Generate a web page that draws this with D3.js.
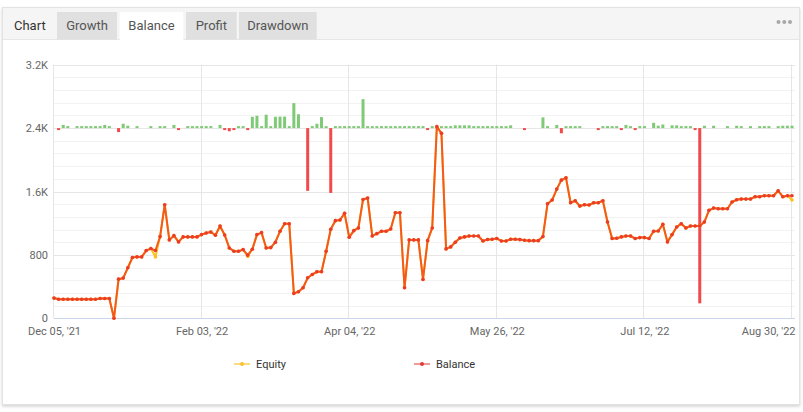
<!DOCTYPE html>
<html>
<head>
<meta charset="utf-8">
<script src="https://cdn.jsdelivr.net/npm/d3@7"></script>
<style>
  body { margin: 0; background: #fff; }
  svg { display: block; font-family: Roboto, "Liberation Sans", Arial, sans-serif; }
</style>
</head>
<body>
<div id="chart-area"></div>
<script>
// Tabs in the header
var tabs = ["Growth", "Balance", "Profit", "Drawdown"];
var activeTab = "Balance";

// X axis ticks (category index -> label)
var tickIndex = [0, 32, 64, 96, 128, 160];
var tickLabels = ["Dec 05, '21", "Feb 03, '22", "Apr 04, '22", "May 26, '22", "Jul 12, '22", "Aug 30, '22"];

// Y axis ticks
var yTicks = [0, 800, 1600, 2400, 3200];
var yTickLabels = ["0", "800", "1.6K", "2.4K", "3.2K"];

// Balance, one value per trading day
var balance = [
  255, 240, 240, 240, 240, 240, 240, 240, 240, 240,
  250, 250, 250, 0, 494, 507, 637, 767, 775, 775,
  855, 880, 855, 1031, 1433, 989, 1043, 964, 1027, 1027,
  1027, 1027, 1056, 1077, 1089, 1048, 1165, 1052, 888, 846,
  846, 867, 796, 872, 1056, 1081, 888, 892, 960, 1098,
  1194, 1194, 314, 335, 385, 511, 553, 587, 587, 846,
  1123, 1232, 1240, 1324, 1022, 1106, 1140, 1500, 1517, 1039,
  1068, 1098, 1098, 1127, 1332, 1332, 385, 989, 989, 989,
  490, 980, 1140, 2418, 2334, 876, 901, 960, 1014, 1027,
  1039, 1039, 1039, 976, 995, 997, 1006, 976, 976, 997,
  997, 993, 985, 980, 980, 980, 1031, 1446, 1492, 1630,
  1743, 1772, 1458, 1483, 1416, 1433, 1429, 1458, 1458, 1483,
  1215, 1006, 1010, 1027, 1039, 1039, 1006, 1018, 1018, 1006,
  1098, 1102, 1186, 964, 1056, 1152, 1194, 1140, 1165, 1165,
  1165, 1215, 1362, 1391, 1383, 1383, 1383, 1467, 1496, 1504,
  1504, 1504, 1534, 1534, 1546, 1546, 1546, 1609, 1534, 1546,
  1546
];

// Equity, one value per trading day
var equity = [
  255, 240, 240, 240, 240, 240, 240, 240, 240, 240,
  250, 250, 250, 0, 494, 507, 637, 767, 775, 775,
  855, 880, 775, 1031, 1433, 989, 1043, 964, 1027, 1027,
  1027, 1027, 1056, 1077, 1089, 1048, 1165, 1052, 888, 846,
  846, 867, 779, 872, 1056, 1081, 888, 892, 960, 1098,
  1194, 1194, 314, 335, 385, 511, 553, 587, 587, 846,
  1123, 1232, 1240, 1324, 1022, 1106, 1140, 1500, 1517, 1039,
  1068, 1098, 1098, 1127, 1332, 1332, 385, 989, 989, 989,
  490, 980, 1140, 2418, 2334, 876, 901, 960, 1014, 1027,
  1039, 1039, 1039, 976, 995, 997, 1006, 976, 976, 997,
  997, 993, 985, 980, 980, 980, 1031, 1446, 1492, 1630,
  1743, 1772, 1458, 1483, 1416, 1433, 1429, 1458, 1458, 1483,
  1215, 1006, 1010, 1027, 1039, 1039, 1006, 1018, 1018, 1006,
  1098, 1102, 1186, 964, 1056, 1152, 1194, 1140, 1165, 1165,
  1165, 1215, 1362, 1391, 1383, 1383, 1383, 1467, 1496, 1504,
  1504, 1504, 1534, 1534, 1546, 1546, 1546, 1609, 1534, 1546,
  1492
];

// Daily change columns (drawn from the 2.4K line)
var dailyChange = [
  0, -25, 40, 25, 0, 25, 25, 25, 25, 25,
  25, 40, 25, 0, -50, 55, 30, 0, 25, 0,
  0, 25, 0, 25, 25, 0, 40, -25, 0, 25,
  25, 25, 25, 25, 25, 0, 40, -25, -40, -25,
  25, 25, -25, 143, 156, 25, 169, 25, 143, 145,
  145, 25, 315, 175, 0, -792, 25, 55, 139, 25,
  -818, 25, 25, 25, 25, 25, 25, 365, 25, 25,
  25, 25, 25, 25, 25, 25, 25, 25, 25, 25,
  25, -25, 25, 25, 25, 25, 25, 35, 35, 35,
  35, 25, 25, 25, 25, 25, 25, 25, 25, 35,
  0, 0, -25, 0, 0, 0, 135, 25, 0, 40,
  -65, 25, 25, 25, 25, 0, 0, 0, -25, 25,
  25, 25, 25, -25, 40, 25, -25, 25, 25, 0,
  67, 30, 45, 0, 35, 35, 25, 25, 25, -25,
  -2211, 30, 0, 30, 0, 0, 25, 0, 30, 25,
  0, 25, 0, 25, 25, 25, 0, 25, 30, 30,
  30
];

var W = 803, H = 412;
var plot = { left: 54, right: 792, top: 64.7, bottom: 318.3, gridRight: 795 };

var svg = d3.select("#chart-area")
  .append("svg")
  .attr("width", W)
  .attr("height", H);

// Panel with a soft shadow
var defs = svg.append("defs");
var shadow = defs.append("filter").attr("id", "shadow")
  .attr("x", "-5%").attr("y", "-5%").attr("width", "110%").attr("height", "115%");
shadow.append("feDropShadow")
  .attr("dx", 0).attr("dy", 1.5)
  .attr("stdDeviation", 1.5)
  .attr("flood-color", "#000")
  .attr("flood-opacity", 0.18);

svg.append("rect")
  .attr("x", 2.5).attr("y", 7.5)
  .attr("width", 797).attr("height", 397)
  .attr("fill", "#fff")
  .attr("stroke", "#e3e3e3")
  .attr("filter", "url(#shadow)");

// Header bar
svg.append("rect")
  .attr("x", 3).attr("y", 8)
  .attr("width", 796).attr("height", 31.5)
  .attr("fill", "#f5f5f5");
svg.append("line")
  .attr("x1", 3).attr("x2", 799)
  .attr("y1", 39.5).attr("y2", 39.5)
  .attr("stroke", "#e6e6e6");

svg.append("text")
  .attr("x", 14).attr("y", 29.5)
  .attr("font-size", "13px")
  .attr("fill", "#333")
  .text("Chart");

var tabX = [57, 119.7, 186, 239];
var tabW = [60, 63.6, 50.7, 77.7];

var tab = svg.selectAll(".tab")
  .data(tabs)
  .enter()
  .append("g")
  .attr("class", "tab")
  .attr("transform", function(d, i) {
    return "translate(" + tabX[i] + ",12)";
  });

tab.append("rect")
  .attr("width", function(d, i) { return tabW[i]; })
  .attr("height", function(d) { return d === activeTab ? 28 : 27.5; })
  .attr("fill", function(d) { return d === activeTab ? "#fff" : "#e0e0e0"; });

tab.append("text")
  .attr("x", function(d, i) { return tabW[i] / 2; })
  .attr("y", 17.5)
  .attr("text-anchor", "middle")
  .attr("font-size", "13px")
  .attr("fill", "#555")
  .text(function(d) { return d; });

// Menu dots
svg.selectAll(".menu-dot")
  .data([778.5, 784.3, 790])
  .enter()
  .append("circle")
  .attr("class", "menu-dot")
  .attr("cx", function(d) { return d; })
  .attr("cy", 22)
  .attr("r", 2)
  .attr("fill", "#a8a8a8");

// Scales
var x = d3.scaleLinear()
  .domain([0, balance.length - 1])
  .range([plot.left, plot.right]);

var y = d3.scaleLinear()
  .domain([0, 3200])
  .range([plot.bottom, plot.top]);

// change columns use their own axis, zero sitting on the 2.4K line
var yBar = d3.scaleLinear()
  .domain([-2400, 800])
  .range([plot.bottom, plot.top]);

var g = svg.append("g");

// Minor grid
g.selectAll(".minor-grid")
  .data(d3.range(0, 3201, 160).filter(function(v) { return v % 800 !== 0; }))
  .enter()
  .append("line")
  .attr("x1", plot.left).attr("x2", plot.gridRight)
  .attr("y1", function(d) { return Math.round(y(d)) + 0.5; })
  .attr("y2", function(d) { return Math.round(y(d)) + 0.5; })
  .attr("stroke", "#f2f2f2");

// Major grid
g.selectAll(".major-grid")
  .data(yTicks.filter(function(v) { return v > 0; }))
  .enter()
  .append("line")
  .attr("x1", plot.left).attr("x2", plot.gridRight)
  .attr("y1", function(d) { return Math.round(y(d)) + 0.5; })
  .attr("y2", function(d) { return Math.round(y(d)) + 0.5; })
  .attr("stroke", "#e6e6e6");

// Vertical grid at the date ticks
g.selectAll(".v-grid")
  .data(tickIndex)
  .enter()
  .append("line")
  .attr("x1", function(d) { return Math.round(x(d)) - 0.5; })
  .attr("x2", function(d) { return Math.round(x(d)) - 0.5; })
  .attr("y1", plot.top).attr("y2", plot.bottom)
  .attr("stroke", "#e6e6e6");

// X axis line
g.append("line")
  .attr("x1", plot.left).attr("x2", plot.gridRight)
  .attr("y1", Math.round(plot.bottom) + 0.5).attr("y2", Math.round(plot.bottom) + 0.5)
  .attr("stroke", "#ccd6eb");

// Y axis labels
var yAxisCall = d3.axisLeft(y)
  .tickValues(yTicks)
  .tickFormat(function(d, i) { return yTickLabels[i]; })
  .tickSize(0)
  .tickPadding(6);

var yAxisGroup = g.append("g")
  .attr("transform", "translate(" + plot.left + ",0)")
  .call(yAxisCall);
yAxisGroup.select(".domain").remove();
yAxisGroup.selectAll("text")
  .attr("font-family", "Roboto, sans-serif")
  .attr("font-size", "11px")
  .attr("fill", "#666");

// X axis labels
var xAxisCall = d3.axisBottom(x)
  .tickValues(tickIndex)
  .tickFormat(function(d, i) { return tickLabels[i]; })
  .tickSize(0)
  .tickPadding(9);

var xAxisGroup = g.append("g")
  .attr("transform", "translate(0," + plot.bottom + ")")
  .call(xAxisCall);
xAxisGroup.select(".domain").remove();
xAxisGroup.selectAll("text")
  .attr("font-family", "Roboto, sans-serif")
  .attr("font-size", "11px")
  .attr("fill", "#666");

// last label is pulled inside the panel, as in the original
xAxisGroup.selectAll(".tick")
  .filter(function(d) { return d === tickIndex[tickIndex.length - 1]; })
  .select("text")
  .attr("text-anchor", "end")
  .attr("x", plot.gridRight - x(tickIndex[tickIndex.length - 1]));

// Change columns
var changeData = dailyChange
  .map(function(v, i) { return { i: i, v: v }; })
  .filter(function(d) { return d.v !== 0; });

g.selectAll(".change-bar")
  .data(changeData)
  .enter()
  .append("rect")
  .attr("class", "change-bar")
  .attr("x", function(d) { return x(d.i) - 1.5; })
  .attr("width", 3)
  .attr("y", function(d) { return Math.min(yBar(0), yBar(d.v)); })
  .attr("height", function(d) { return Math.abs(yBar(d.v) - yBar(0)); })
  .attr("fill", function(d) { return d.v > 0 ? "#7fca76" : "#f24a4a"; });

// Lines
var line = d3.line()
  .x(function(d, i) { return x(i); })
  .y(function(d) { return y(d); });

g.append("path")
  .datum(equity)
  .attr("fill", "none")
  .attr("stroke", "#ffbf1a")
  .attr("stroke-width", 2)
  .attr("stroke-linejoin", "round")
  .attr("d", line);

g.selectAll(".eq-dot")
  .data(equity)
  .enter()
  .append("circle")
  .attr("class", "eq-dot")
  .attr("cx", function(d, i) { return x(i); })
  .attr("cy", function(d) { return y(d); })
  .attr("r", 1.8)
  .attr("fill", "#ffbf1a");

g.append("path")
  .datum(balance)
  .attr("fill", "none")
  .attr("stroke", "#f35a1c")
  .attr("stroke-width", 2)
  .attr("stroke-linejoin", "round")
  .attr("d", line);

g.selectAll(".bal-dot")
  .data(balance)
  .enter()
  .append("circle")
  .attr("class", "bal-dot")
  .attr("cx", function(d, i) { return x(i); })
  .attr("cy", function(d) { return y(d); })
  .attr("r", 1.8)
  .attr("fill", "#ec3b2c");

// Legend
var legendItems = ["Equity", "Balance"];
var legendX = [234, 414];
var legendLine = ["#fddc7e", "#f29a9a"];
var legendDot = ["#fbc02d", "#e53935"];

var legend = svg.selectAll(".legend")
  .data(legendItems)
  .enter()
  .append("g")
  .attr("class", "legend")
  .attr("transform", function(d, i) {
    return "translate(" + legendX[i] + ",364)";
  });

legend.append("line")
  .attr("x1", 0).attr("x2", 16)
  .attr("stroke", function(d, i) { return legendLine[i]; })
  .attr("stroke-width", 2);

legend.append("circle")
  .attr("cx", 8)
  .attr("r", 2)
  .attr("fill", function(d, i) { return legendDot[i]; });

legend.append("text")
  .attr("x", 22)
  .attr("y", 4)
  .attr("font-size", "11px")
  .attr("fill", "#333")
  .text(function(d) { return d; });
</script>
</body>
</html>
